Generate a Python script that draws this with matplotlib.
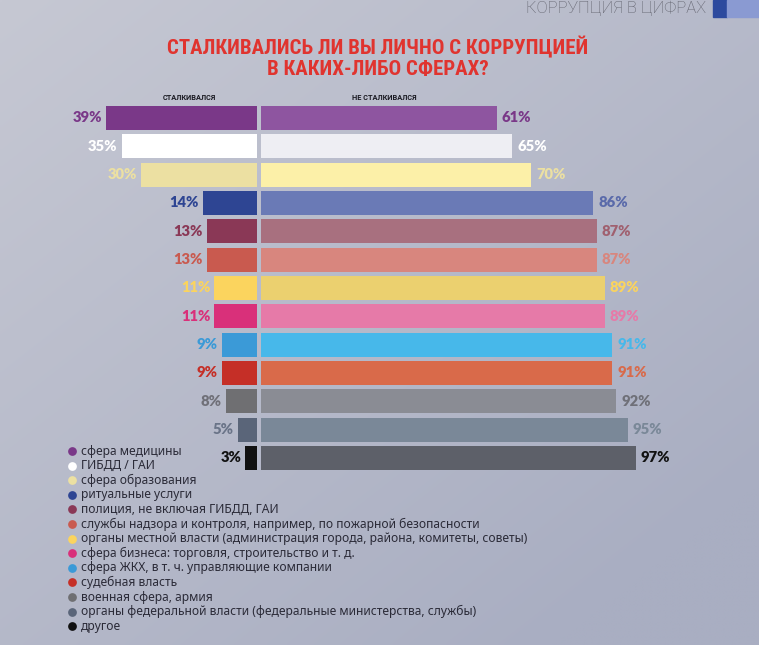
import matplotlib
matplotlib.use("Agg")
import matplotlib.pyplot as plt
import numpy as np
from matplotlib.patches import Rectangle

categories = [
    "сфера медицины",
    "ГИБДД / ГАИ",
    "сфера образования",
    "ритуальные услуги",
    "полиция, не включая ГИБДД, ГАИ",
    "службы надзора и контроля, например, по пожарной безопасности",
    "органы местной власти (администрация города, района, комитеты, советы)",
    "сфера бизнеса: торговля, строительство и т. д.",
    "сфера ЖКХ, в т. ч. управляющие компании",
    "судебная власть",
    "военная сфера, армия",
    "органы федеральной власти (федеральные министерства, службы)",
    "другое",
]
faced = [39, 35, 30, 14, 13, 13, 11, 11, 9, 9, 8, 5, 3]
not_faced = [61, 65, 70, 86, 87, 87, 89, 89, 91, 91, 92, 95, 97]

left_colors = ["#7a3888", "#ffffff", "#ece0a2", "#2e4593", "#8a3856", "#c95a4f",
               "#fbd45e", "#d9307a", "#3b9ad7", "#c52f27", "#6f6f72", "#5a6579", "#111111"]
right_colors = ["#8e55a0", "#eeeef3", "#fcf0a8", "#6a7ab6", "#a8707f", "#d8867e",
                "#ebd06f", "#e67aa8", "#47b8ea", "#d96a4a", "#8a8c94", "#7a8898", "#5d6069"]
left_label_colors = ["#7a3888", "#ffffff", "#ece0a2", "#2e4593", "#8a3856", "#c95a4f",
                     "#fbd45e", "#d9307a", "#3b9ad7", "#c52f27", "#707078", "#6a7488", "#111111"]
right_label_colors = ["#7a3888", "#ffffff", "#ece0a2", "#5a6aaa", "#a0606f", "#d8867e",
                      "#fbd45e", "#e67aa8", "#47b8ea", "#d96a4a", "#6f7078", "#7a8898", "#111111"]

W, H = 759, 645
fig = plt.figure(figsize=(W / 100, H / 100), dpi=100)
fig.patch.set_facecolor("#b9bdcc")

# background gradient
bgax = fig.add_axes([0, 0, 1, 1], zorder=0)
gx, gy = np.meshgrid(np.linspace(0, 1, 200), np.linspace(0, 1, 200))
t = np.clip(0.55 * gx + 0.6 * gy, 0, 1)[..., None]
c_top = np.array([0xc6, 0xc8, 0xd3]) / 255
c_bot = np.array([0xa9, 0xae, 0xc2]) / 255
bgax.imshow(c_top * (1 - t) + c_bot * t, extent=[0, 1, 1, 0], aspect="auto",
            interpolation="bilinear")
bgax.set_xlim(0, 1)
bgax.set_ylim(1, 0)
bgax.axis("off")

ax = fig.add_axes([0, 0, 1, 1], zorder=1)
ax.set_facecolor("none")
pxp = 3.86          # pixels per percent
cx = 259            # center pixel
pitch = 28.33
y0 = 118
ax.set_xlim(-cx / pxp, (W - cx) / pxp)
ax.set_ylim((H - y0) / pitch, -y0 / pitch)
ax.axis("off")

gap = 0.55
ys = list(range(len(categories)))
ax.barh(ys, [-v for v in faced], left=-gap, height=0.85, color=left_colors, linewidth=0)
ax.barh(ys, not_faced, left=gap, height=0.85, color=right_colors, linewidth=0)

lf = "Lato"
for i in ys:
    ax.text(-gap - faced[i] - 1.1, i, f"{faced[i]}%", ha="right", va="center",
            color=left_label_colors[i], fontsize=10.6, fontweight="heavy", family=lf)
    ax.text(gap + not_faced[i] + 1.3, i, f"{not_faced[i]}%", ha="left", va="center",
            color=right_label_colors[i], fontsize=10.6, fontweight="heavy", family=lf)

# column headers
fig.text(189 / W, 1 - 98 / H, "СТАЛКИВАЛСЯ", ha="center", va="center",
         fontsize=5.3, fontweight="bold", color="#1a1a22", family="Roboto", zorder=2)
fig.text(384 / W, 1 - 98 / H, "НЕ СТАЛКИВАЛСЯ", ha="center", va="center",
         fontsize=5.3, fontweight="bold", color="#1a1a22", family="Roboto", zorder=2)

# title
for txt, yy in [("СТАЛКИВАЛИСЬ ЛИ ВЫ ЛИЧНО С КОРРУПЦИЕЙ", 47),
                ("В КАКИХ-ЛИБО СФЕРАХ?", 69)]:
    fig.text(378 / W, 1 - yy / H, txt, ha="center", va="center", fontsize=15,
             fontweight="bold", color="#e0342f", family="Roboto Condensed", zorder=2)

# header top right
fig.text(706 / W, 1 - 8 / H, "КОРРУПЦИЯ В ЦИФРАХ", ha="right", va="center",
         fontsize=12, fontweight="light", color="#5f606b", family="Roboto", zorder=2)
fig.patches.append(Rectangle((713 / W, 1 - 17 / H), 14 / W, 17 / H,
                             transform=fig.transFigure, color="#2d4a9e", zorder=3))
fig.patches.append(Rectangle((727 / W, 1 - 17 / H), 32 / W, 17 / H,
                             transform=fig.transFigure, color="#8a9ad2", zorder=3))

# legend (manual rows)
ly0, lstep = 451, 14.6
for i, (cat, col) in enumerate(zip(categories, left_colors)):
    yy = 1 - (ly0 + i * lstep) / H
    fig.add_artist(plt.Line2D([72 / W], [yy], marker="o", markersize=6.3,
                              markerfacecolor=col, markeredgecolor="none",
                              linestyle="none", transform=fig.transFigure, zorder=3))
    fig.text(81 / W, yy, cat, ha="left", va="center", fontsize=8.7,
             color="#2b2b38", family="Noto Sans", zorder=3)

fig.savefig("out.png", dpi=100, facecolor=fig.get_facecolor())
